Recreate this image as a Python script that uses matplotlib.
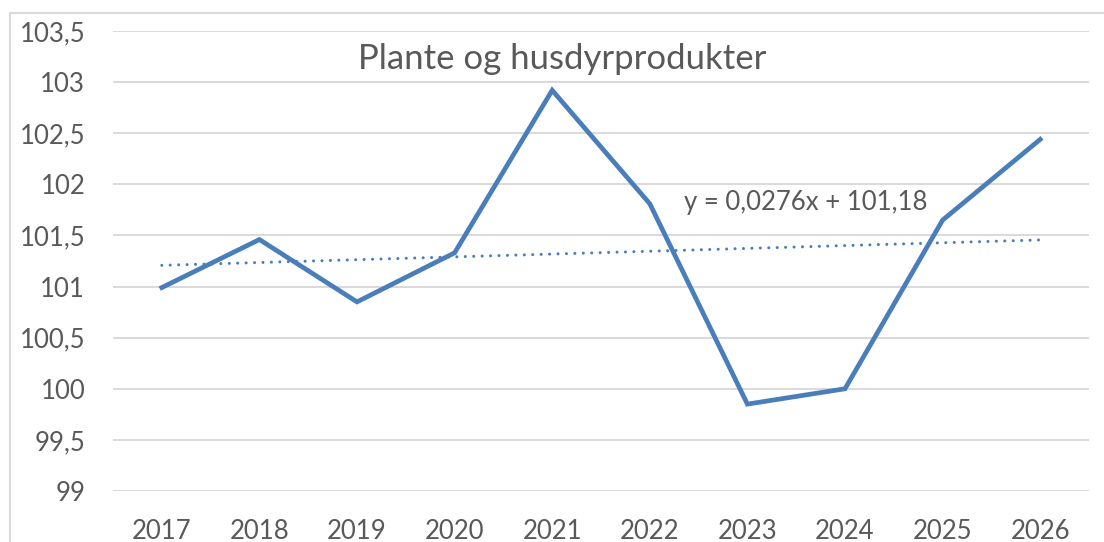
import matplotlib
matplotlib.use("Agg")
import matplotlib.pyplot as plt
import numpy as np
from matplotlib.lines import Line2D

years = ["2017", "2018", "2019", "2020", "2021", "2022", "2023", "2024", "2025", "2026"]
values = [100.99, 101.46, 100.85, 101.33, 102.92, 101.81, 99.85, 100.00, 101.65, 102.44]
trend_slope = 0.0276
trend_icept = 101.18
yticks = [99, 99.5, 100, 100.5, 101, 101.5, 102, 102.5, 103, 103.5]
ytick_labels = ["99", "99,5", "100", "100,5", "101", "101,5", "102", "102,5", "103", "103,5"]

BLUE = "#4a7ebb"
TXT = "#595959"
GRID = "#d9d9d9"
FONT = ["Lato", "DejaVu Sans"]

W, H = 1104, 542
fig = plt.figure(figsize=(W / 100, H / 100), dpi=100)
fig.patch.set_facecolor("white")
ax = fig.add_axes([113 / W, 1 - 491 / H, (1089 - 113) / W, (491 - 31) / H])

x = np.arange(len(years))
ax.plot(x, values, color=BLUE, lw=3.4, solid_joinstyle="miter", zorder=3)
# linear trend from the equation shown on the chart (x = 1..10)
trend = trend_slope * (x + 1) + trend_icept
ax.plot(x, trend, color=BLUE, lw=2.2, linestyle=(0, (0.01, 2.75)),
        dash_capstyle="round", zorder=2)

ax.set_xlim(-0.5, len(years) - 0.5)
ax.set_ylim(99, 103.5)
ax.set_yticks(yticks)
ax.set_yticklabels(ytick_labels)
ax.set_xticks(x)
ax.set_xticklabels(years)
ax.grid(axis="y", color=GRID, lw=1.4)
ax.set_axisbelow(True)
for s in ax.spines.values():
    s.set_visible(False)
ax.tick_params(length=0, labelsize=18.5, colors=TXT)
ax.tick_params(axis="y", pad=20)
ax.tick_params(axis="x", pad=20)
for lab in ax.get_xticklabels() + ax.get_yticklabels():
    lab.set_family(FONT)

ax.text(4.1, 103.23, "Plante og husdyrprodukter", ha="center", va="center",
        fontsize=25, color=TXT, family=FONT)
ax.text(5.35, 101.82, "y = 0,0276x + 101,18", ha="left", va="center",
        fontsize=18.5, color=TXT, family=FONT)

# chart area border (cropped at right/bottom)
fig.add_artist(Line2D([10 / W, 10 / W], [0, 1 - 13 / H], color=GRID, lw=1.5))
fig.add_artist(Line2D([10 / W, 1], [1 - 13 / H, 1 - 13 / H], color=GRID, lw=1.5))

fig.savefig("out.png", dpi=100, facecolor="white")
